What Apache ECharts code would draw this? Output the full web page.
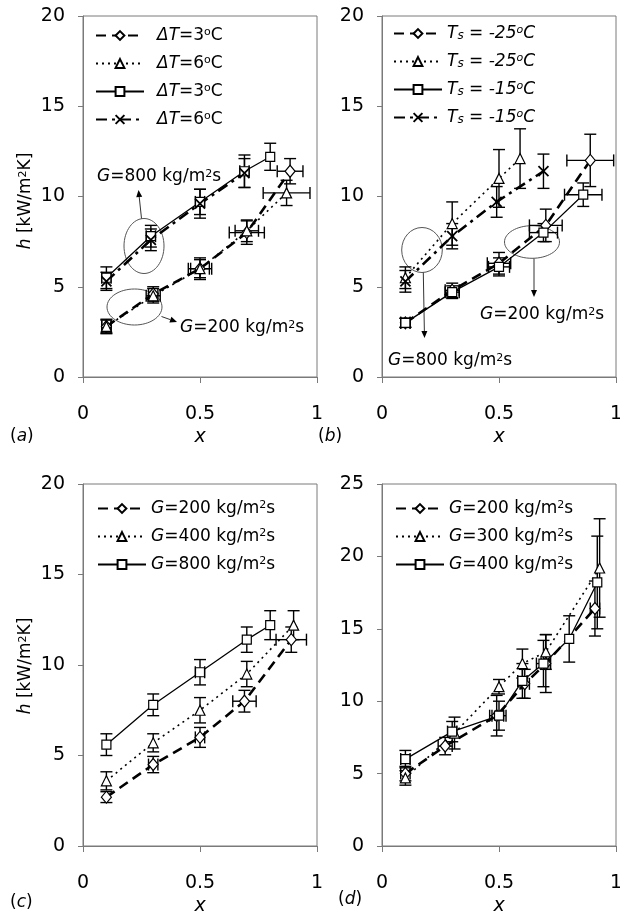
<!DOCTYPE html>
<html>
<head>
<meta charset="utf-8">
<script src="https://cdn.jsdelivr.net/npm/echarts@6/dist/echarts.min.js"></script>
<style>
  html, body { margin: 0; padding: 0; background: #fff; }
  #chart { width: 620px; height: 917px; }
</style>
</head>
<body>
<div id="chart"></div>
<script>
// ---------- (a) wall superheat ΔT, G = 200 / 800 kg/m2s ----------
const aD3x = [0.1, 0.3, 0.5, 0.7, 0.885];
const aD3h = [2.8, 4.6, 6.0, 8.0, 11.4];
const aD3ey = [0.4, 0.4, 0.6, 0.65, 0.7];
const aD3ex = [0.02, 0.02, 0.05, 0.075, 0.055];
const aT6x = [0.1, 0.3, 0.5, 0.7, 0.87];
const aT6h = [2.8, 4.5, 6.0, 8.1, 10.2];
const aT6ey = [0.35, 0.4, 0.5, 0.6, 0.7];
const aT6ex = [0.02, 0.03, 0.04, 0.05, 0.1];
const aS3x = [0.1, 0.29, 0.5, 0.69, 0.8];
const aS3h = [5.5, 7.8, 9.7, 11.4, 12.2];
const aS3ey = [0.6, 0.6, 0.7, 0.9, 0.75];
const aS3ex = [0.02, 0.02, 0.02, 0.02, 0];
const aX6x = [0.1, 0.29, 0.5, 0.69];
const aX6h = [5.3, 7.6, 9.6, 11.3];
const aX6ey = [0.5, 0.6, 0.8, 0.8];
const aX6ex = [0, 0, 0, 0];

// ---------- (b) saturation temperature Ts ----------
const bD25x = [0.1, 0.3, 0.5, 0.7, 0.89];
const bD25h = [3.0, 4.8, 6.3, 8.4, 12.0];
const bD25ey = [0.25, 0.4, 0.6, 0.9, 1.45];
const bD25ex = [0.02, 0.03, 0.05, 0.07, 0.1];
const bT25x = [0.1, 0.3, 0.5, 0.59];
const bT25h = [5.5, 8.5, 11.0, 12.1];
const bT25ey = [0.6, 1.2, 1.6, 1.65];
const bT25ex = [0, 0, 0, 0];
const bS15x = [0.1, 0.3, 0.5, 0.69, 0.86];
const bS15h = [3.0, 4.7, 6.1, 8.0, 10.1];
const bS15ey = [0.25, 0.35, 0.5, 0.5, 0.65];
const bS15ex = [0.02, 0.03, 0.045, 0.06, 0.08];
const bX15x = [0.1, 0.3, 0.49, 0.69];
const bX15h = [5.3, 7.8, 9.7, 11.4];
const bX15ey = [0.6, 0.7, 0.85, 0.95];
const bX15ex = [0, 0, 0, 0];

// ---------- (c) mass flux G ----------
const cD200x = [0.1, 0.3, 0.5, 0.69, 0.89];
const cD200h = [2.7, 4.5, 6.0, 8.0, 11.4];
const cD200ey = [0.3, 0.45, 0.55, 0.6, 0.7];
const cD200ex = [0, 0.02, 0.02, 0.05, 0.065];
const cT400x = [0.1, 0.3, 0.5, 0.7, 0.9];
const cT400h = [3.6, 5.7, 7.5, 9.5, 12.2];
const cT400ey = [0.5, 0.5, 0.7, 0.7, 0.8];
const cT400ex = [0, 0, 0, 0, 0];
const cS800x = [0.1, 0.3, 0.5, 0.7, 0.8];
const cS800h = [5.6, 7.8, 9.6, 11.4, 12.2];
const cS800ey = [0.6, 0.6, 0.7, 0.7, 0.8];
const cS800ex = [0, 0, 0.02, 0, 0];

// ---------- (d) mass flux G, second data set ----------
const dD200x = [0.1, 0.27, 0.49, 0.61, 0.7, 0.91];
const dD200h = [5.0, 6.9, 9.0, 11.2, 12.6, 16.4];
const dD200ey = [0.5, 0.6, 1.4, 1.0, 2.0, 1.9];
const dD200ex = [0.02, 0.03, 0.03, 0.02, 0.02, 0.02];
const dT300x = [0.1, 0.31, 0.5, 0.6, 0.7, 0.93];
const dT300h = [4.7, 7.8, 11.0, 12.6, 13.4, 19.2];
const dT300ey = [0.5, 1.1, 0.5, 1.0, 1.2, 3.4];
const dT300ex = [0, 0, 0, 0, 0, 0];
const dS400x = [0.1, 0.3, 0.5, 0.6, 0.69, 0.8, 0.92];
const dS400h = [6.0, 7.9, 9.0, 11.4, 12.6, 14.3, 18.2];
const dS400ey = [0.6, 0.7, 1.0, 1.2, 1.6, 1.6, 3.2];
const dS400ex = [0.02, 0.02, 0.03, 0.02, 0.03, 0, 0];

// axis ticks
const xTicks = { min: 0, max: 1, interval: 0.5 };
const yMaxTop = 20, yMaxD = 25, yInterval = 5;

const FONT = 'DejaVu Sans';
const AXIS_GRAY = '#7a7a7a';

// line styles per marker family
const STY = {
  dash:    { type: [10, 6], width: 2.6 },
  dot:     { type: [2, 4], width: 1.6 },
  solid:   { type: 'solid', width: 1.3 },
  dashdot: { type: [11, 5, 3, 5], width: 2.6 }
};
const XMARK = 'path://M0,0L10,10M10,0L0,10';

function lineSeries(name, xs, hs, idx, sty, symbol, size) {
  const isX = symbol === XMARK;
  return {
    type: 'line', name, xAxisIndex: idx, yAxisIndex: idx,
    data: xs.map((x, i) => [x, hs[i]]),
    symbol, symbolSize: size, showAllSymbol: true,
    lineStyle: Object.assign({ color: '#000' }, STY[sty]),
    itemStyle: { color: isX ? 'transparent' : '#fff', borderColor: '#000', borderWidth: isX ? 1.8 : 1.2 },
    emphasis: { disabled: true }, z: 3, animation: false
  };
}

function errRender(params, api) {
  const x = api.value(0), y = api.value(1), ey = api.value(2), ex = api.value(3);
  const c = api.coord([x, y]);
  const st = { stroke: '#000', lineWidth: 1.4 };
  const cap = 6;
  const kids = [];
  if (ey > 0) {
    const t = api.coord([x, y + ey]), b = api.coord([x, y - ey]);
    kids.push({ type: 'line', shape: { x1: c[0], y1: t[1], x2: c[0], y2: b[1] }, style: st });
    kids.push({ type: 'line', shape: { x1: c[0] - cap, y1: t[1], x2: c[0] + cap, y2: t[1] }, style: st });
    kids.push({ type: 'line', shape: { x1: c[0] - cap, y1: b[1], x2: c[0] + cap, y2: b[1] }, style: st });
  }
  if (ex > 0) {
    const l = api.coord([x - ex, y]), r = api.coord([x + ex, y]);
    kids.push({ type: 'line', shape: { x1: l[0], y1: c[1], x2: r[0], y2: c[1] }, style: st });
    kids.push({ type: 'line', shape: { x1: l[0], y1: c[1] - cap, x2: l[0], y2: c[1] + cap }, style: st });
    kids.push({ type: 'line', shape: { x1: r[0], y1: c[1] - cap, x2: r[0], y2: c[1] + cap }, style: st });
  }
  return { type: 'group', children: kids };
}

function errSeries(xs, hs, ey, ex, idx) {
  return {
    type: 'custom', xAxisIndex: idx, yAxisIndex: idx,
    data: xs.map((x, i) => [x, hs[i], ey[i], ex[i]]),
    encode: { x: 0, y: 1 }, renderItem: errRender, z: 2, silent: true, animation: false
  };
}

const rich = {
  i: { fontStyle: 'italic', fontSize: 17, fontFamily: FONT, color: '#000' },
  n: { fontSize: 17, fontFamily: FONT, color: '#000' },
  s: { fontSize: 11, fontFamily: FONT, verticalAlign: 'top', color: '#000' },
  si: { fontSize: 11, fontFamily: FONT, fontStyle: 'italic', verticalAlign: 'top', color: '#000' },
  sb: { fontSize: 12, fontFamily: FONT, fontStyle: 'italic', verticalAlign: 'bottom', color: '#000' }
};

const legendText = {
  'a-200-3': '{i|ΔT}{n|=3}{s|o}{n|C}',
  'a-200-6': '{i|ΔT}{n|=6}{s|o}{n|C}',
  'a-800-3': '{i|ΔT}{n|=3}{s|o}{n|C}',
  'a-800-6': '{i|ΔT}{n|=6}{s|o}{n|C}',
  'b-200-25': '{i|T}{sb|s}{n| = }{i|-25}{si|o}{i|C}',
  'b-800-25': '{i|T}{sb|s}{n| = }{i|-25}{si|o}{i|C}',
  'b-200-15': '{i|T}{sb|s}{n| = }{i|-15}{si|o}{i|C}',
  'b-800-15': '{i|T}{sb|s}{n| = }{i|-15}{si|o}{i|C}',
  'c-200': '{i|G}{n|=200 kg/m}{s|2}{n|s}',
  'c-400': '{i|G}{n|=400 kg/m}{s|2}{n|s}',
  'c-800': '{i|G}{n|=800 kg/m}{s|2}{n|s}',
  'd-200': '{i|G}{n|=200 kg/m}{s|2}{n|s}',
  'd-300': '{i|G}{n|=300 kg/m}{s|2}{n|s}',
  'd-400': '{i|G}{n|=400 kg/m}{s|2}{n|s}'
};

function legend(names, left, top, pad) {
  return {
    data: names, left, top, orient: 'vertical',
    itemWidth: 48, itemHeight: 11, itemGap: 11,
    selectedMode: false, padding: 0,
    formatter: n => legendText[n],
    textStyle: { fontSize: 17, fontFamily: FONT, color: '#000', rich, padding: [0, 0, 0, pad] }
  };
}

const grids = [
  { left: 83, top: 16, width: 234, height: 361 },
  { left: 382, top: 16, width: 234, height: 361 },
  { left: 83, top: 484, width: 234, height: 362 },
  { left: 382, top: 484, width: 234, height: 362 }
].map(g => Object.assign(g, { show: true, borderColor: AXIS_GRAY, borderWidth: 1, backgroundColor: 'transparent', containLabel: false, outerBoundsMode: 'none' }));

const xAxes = [0, 1, 2, 3].map(i => ({
  type: 'value', gridIndex: i, min: xTicks.min, max: xTicks.max, interval: xTicks.interval,
  axisLine: { show: true, onZero: false, lineStyle: { color: AXIS_GRAY, width: 1 } },
  axisTick: { show: true, length: 6, lineStyle: { color: AXIS_GRAY } },
  axisLabel: { fontSize: 19, fontFamily: FONT, color: '#000', margin: 28 },
  splitLine: { show: false }
}));

const yAxes = [0, 1, 2, 3].map(i => ({
  type: 'value', gridIndex: i, min: 0, max: i === 3 ? yMaxD : yMaxTop, interval: yInterval,
  axisLine: { show: true, onZero: false, lineStyle: { color: AXIS_GRAY, width: 1 } },
  axisTick: { show: true, length: 5, lineStyle: { color: AXIS_GRAY } },
  axisLabel: { fontSize: 19, fontFamily: FONT, color: '#000', margin: 18 },
  splitLine: { show: false }
}));

const DIA = [10, 12], TRI = 10, SQR = 9, XS = 10;

const series = [
  errSeries(aD3x, aD3h, aD3ey, aD3ex, 0), errSeries(aT6x, aT6h, aT6ey, aT6ex, 0),
  errSeries(aS3x, aS3h, aS3ey, aS3ex, 0), errSeries(aX6x, aX6h, aX6ey, aX6ex, 0),
  errSeries(bD25x, bD25h, bD25ey, bD25ex, 1), errSeries(bT25x, bT25h, bT25ey, bT25ex, 1),
  errSeries(bS15x, bS15h, bS15ey, bS15ex, 1), errSeries(bX15x, bX15h, bX15ey, bX15ex, 1),
  errSeries(cD200x, cD200h, cD200ey, cD200ex, 2), errSeries(cT400x, cT400h, cT400ey, cT400ex, 2),
  errSeries(cS800x, cS800h, cS800ey, cS800ex, 2),
  errSeries(dD200x, dD200h, dD200ey, dD200ex, 3), errSeries(dT300x, dT300h, dT300ey, dT300ex, 3),
  errSeries(dS400x, dS400h, dS400ey, dS400ex, 3),

  lineSeries('a-200-3', aD3x, aD3h, 0, 'dash', 'diamond', DIA),
  lineSeries('a-200-6', aT6x, aT6h, 0, 'dot', 'triangle', TRI),
  lineSeries('a-800-3', aS3x, aS3h, 0, 'solid', 'rect', SQR),
  lineSeries('a-800-6', aX6x, aX6h, 0, 'dashdot', XMARK, XS),
  lineSeries('b-200-25', bD25x, bD25h, 1, 'dash', 'diamond', DIA),
  lineSeries('b-800-25', bT25x, bT25h, 1, 'dot', 'triangle', TRI),
  lineSeries('b-200-15', bS15x, bS15h, 1, 'solid', 'rect', SQR),
  lineSeries('b-800-15', bX15x, bX15h, 1, 'dashdot', XMARK, XS),
  lineSeries('c-200', cD200x, cD200h, 2, 'dash', 'diamond', DIA),
  lineSeries('c-400', cT400x, cT400h, 2, 'dot', 'triangle', TRI),
  lineSeries('c-800', cS800x, cS800h, 2, 'solid', 'rect', SQR),
  lineSeries('d-200', dD200x, dD200h, 3, 'dash', 'diamond', DIA),
  lineSeries('d-300', dT300x, dT300h, 3, 'dot', 'triangle', TRI),
  lineSeries('d-400', dS400x, dS400h, 3, 'solid', 'rect', SQR)
];

// ---------- annotations: ellipses, arrows, labels ----------
function txt(x, y, text, opts) {
  return Object.assign({
    type: 'text', x, y,
    style: Object.assign({ text, fontFamily: FONT, fontSize: 17, fill: '#000', rich,
      textAlign: 'left', textVerticalAlign: 'middle' }, (opts && opts.style) || {})
  }, opts && opts.rotation !== undefined ? { rotation: opts.rotation } : {});
}
function ellipse(cx, cy, rx, ry) {
  return { type: 'ellipse', shape: { cx, cy, rx, ry }, style: { fill: 'none', stroke: '#555', lineWidth: 1 } };
}
function arrow(x1, y1, x2, y2) {
  const dx = x2 - x1, dy = y2 - y1, L = Math.hypot(dx, dy);
  const ux = dx / L, uy = dy / L, hl = 7, hw = 3;
  const bx = x2 - ux * hl, by = y2 - uy * hl;
  return [
    { type: 'line', shape: { x1, y1, x2: bx, y2: by }, style: { stroke: '#333', lineWidth: 1 } },
    { type: 'polygon', shape: { points: [[x2, y2], [bx - uy * hw, by + ux * hw], [bx + uy * hw, by - ux * hw]] },
      style: { fill: '#000' } }
  ];
}

const yLabel = '{i|h}{n| [kW/m}{s|2}{n|K]}';
const gLabel800 = '{i|G}{n|=800 kg/m}{s|2}{n|s}';
const gLabel200 = '{i|G}{n|=200 kg/m}{s|2}{n|s}';

const graphic = [
  ellipse(144, 246, 20, 27.5),
  ellipse(134.5, 307, 27.5, 18),
  ellipse(422, 250, 20.3, 22.5),
  ellipse(532, 242, 27.5, 16.3),
  ...arrow(141.5, 218.5, 138.5, 190),
  ...arrow(161.5, 316.5, 177, 322),
  ...arrow(423.3, 272.5, 424.5, 338),
  ...arrow(534, 258.5, 534, 297),
  txt(97, 177, gLabel800),
  txt(180, 328, gLabel200),
  txt(480, 315, gLabel200),
  txt(388, 361, gLabel800),
  txt(26, 201, yLabel, { rotation: Math.PI / 2, style: { textAlign: 'center' } }),
  txt(26, 666, yLabel, { rotation: Math.PI / 2, style: { textAlign: 'center' } }),
  txt(200, 437, 'x', { style: { textAlign: 'center', fontStyle: 'italic', fontSize: 19 } }),
  txt(499, 437, 'x', { style: { textAlign: 'center', fontStyle: 'italic', fontSize: 19 } }),
  txt(200, 906, 'x', { style: { textAlign: 'center', fontStyle: 'italic', fontSize: 19 } }),
  txt(499, 906, 'x', { style: { textAlign: 'center', fontStyle: 'italic', fontSize: 19 } }),
  txt(10, 437, '{n|(}{i|a}{n|)}'),
  txt(318, 437, '{n|(}{i|b}{n|)}'),
  txt(10, 903, '{n|(}{i|c}{n|)}'),
  txt(338, 900, '{n|(}{i|d}{n|)}')
];

const chart = echarts.init(document.getElementById('chart'), null, { renderer: 'canvas' });
chart.setOption({
  animation: false,
  backgroundColor: '#fff',
  grid: grids,
  xAxis: xAxes,
  yAxis: yAxes,
  legend: [
    legend(['a-200-3', 'a-200-6', 'a-800-3', 'a-800-6'], 95, 27, 8),
    legend(['b-200-25', 'b-800-25', 'b-200-15', 'b-800-15'], 393, 25, 0),
    legend(['c-200', 'c-400', 'c-800'], 97, 500, 0),
    legend(['d-200', 'd-300', 'd-400'], 395, 500, 0)
  ],
  series,
  graphic
});
</script>
</body>
</html>
